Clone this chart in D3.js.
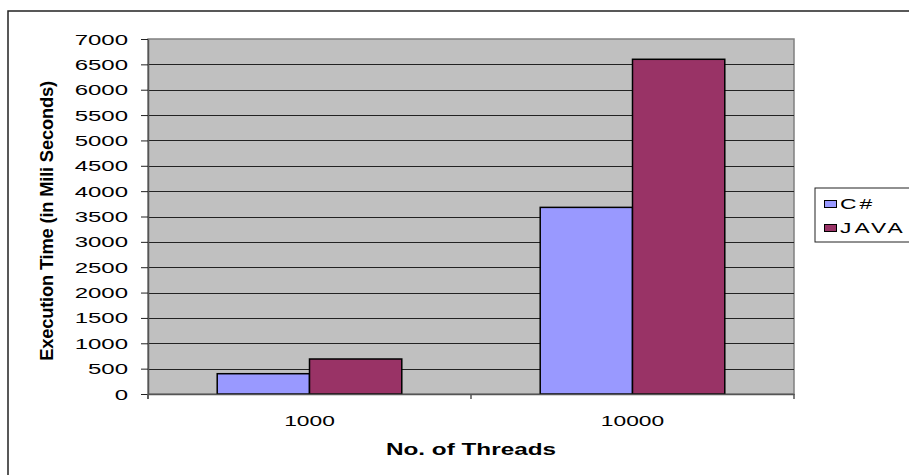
<!DOCTYPE html>
<html>
<head>
<meta charset="utf-8">
<script src="https://cdn.jsdelivr.net/npm/d3@7"></script>
<style>
  body { margin: 0; background: #fff; }
  svg { display: block; font-family: "Liberation Sans", Arial, sans-serif; }
</style>
</head>
<body>
<svg id="chart" width="909" height="475"></svg>
<script>
// Execution time: C# vs JAVA threads
const categories = ["1000", "10000"];
const series = ["C#", "JAVA"];
const csharpValues = [400, 3680];
const javaValues = [690, 6600];
const yTicks = [0, 500, 1000, 1500, 2000, 2500, 3000, 3500, 4000, 4500, 5000, 5500, 6000, 6500, 7000];

const colors = { "C#": "#9999ff", "JAVA": "#993366" };
const stretch = 1.52; // reference text is drawn wide

const plot = { left: 148, right: 794, top: 39, bottom: 394 };

const svg = d3.select("#chart");

// outer chart border
svg.append("rect")
    .attr("x", 8).attr("y", 11)
    .attr("width", 960).attr("height", 520)
    .attr("fill", "none")
    .attr("stroke", "#222")
    .attr("stroke-width", 1.5);

const x = d3.scaleBand().domain(categories).range([plot.left, plot.right]).padding(0);
const xs = d3.scaleBand().domain(series).range([0, x.bandwidth()]).paddingInner(0).paddingOuter(0.75);
const y = d3.scaleLinear().domain([0, 7000]).range([plot.bottom, plot.top]);

// plot area
svg.append("rect")
    .attr("x", plot.left).attr("y", plot.top)
    .attr("width", plot.right - plot.left).attr("height", plot.bottom - plot.top)
    .attr("fill", "#c0c0c0")
    .attr("stroke", "#808080")
    .attr("stroke-width", 1.5);

// gridlines
svg.append("g")
    .selectAll("line")
    .data(yTicks.filter(d => d > 0 && d < 7000))
    .enter().append("line")
    .attr("x1", plot.left).attr("x2", plot.right)
    .attr("y1", d => Math.round(y(d)) + 0.5).attr("y2", d => Math.round(y(d)) + 0.5)
    .attr("stroke", "#222")
    .attr("stroke-width", 1);

// bars
const rows = categories.map((c, i) => ({ cat: c, values: [
    { key: "C#", value: csharpValues[i] },
    { key: "JAVA", value: javaValues[i] }
] }));

const groups = svg.selectAll(".group")
    .data(rows)
    .enter().append("g")
    .attr("class", "group")
    .attr("transform", d => `translate(${x(d.cat)},0)`);

groups.selectAll("rect")
    .data(d => d.values)
    .enter().append("rect")
    .attr("x", d => xs(d.key))
    .attr("y", d => y(d.value))
    .attr("width", xs.bandwidth())
    .attr("height", d => y(0) - y(d.value))
    .attr("fill", d => colors[d.key])
    .attr("stroke", "#000")
    .attr("stroke-width", 1.5);

// y axis
const yAxis = svg.append("g")
    .attr("transform", `translate(${plot.left},0)`)
    .call(d3.axisLeft(y).tickValues(yTicks).tickSize(7).tickSizeOuter(0).tickFormat(""));
yAxis.select(".domain").attr("stroke", "#555").attr("stroke-width", 1.5);
yAxis.selectAll(".tick line").attr("stroke", "#222");
svg.append("line")
    .attr("x1", plot.left).attr("x2", plot.left)
    .attr("y1", plot.bottom).attr("y2", plot.bottom + 5)
    .attr("stroke", "#555").attr("stroke-width", 1.5);

svg.append("g")
    .selectAll("text")
    .data(yTicks)
    .enter().append("text")
    .attr("transform", d => `translate(128,${y(d) + 5.5}) scale(1.6,1)`)
    .attr("text-anchor", "end")
    .style("font-size", "15px")
    .attr("fill", "#000")
    .text(d => d);

// x axis
const xAxis = svg.append("g")
    .attr("transform", `translate(0,${plot.bottom})`)
    .call(d3.axisBottom(x).tickSize(0).tickFormat(""));
xAxis.select(".domain").attr("stroke", "#555").attr("stroke-width", 1.5);
xAxis.selectAll(".tick").remove();

const bounds = categories.map(c => x(c)).concat([x(categories[categories.length - 1]) + x.bandwidth()]);
svg.append("g")
    .selectAll("line")
    .data(bounds)
    .enter().append("line")
    .attr("x1", d => d).attr("x2", d => d)
    .attr("y1", plot.bottom).attr("y2", plot.bottom + 5)
    .attr("stroke", "#555").attr("stroke-width", 1.5);

svg.append("g")
    .selectAll("text")
    .data(categories)
    .enter().append("text")
    .attr("transform", d => `translate(${x(d) + x.bandwidth() / 2},426) scale(${stretch},1)`)
    .attr("text-anchor", "middle")
    .style("font-size", "15px")
    .text(d => d);

// axis titles
svg.append("text")
    .attr("transform", `translate(${(plot.left + plot.right) / 2},455) scale(${stretch},1)`)
    .attr("text-anchor", "middle")
    .style("font-size", "16px")
    .style("font-weight", "bold")
    .text("No. of Threads");

svg.append("text")
    .attr("transform", "translate(53,221) rotate(-90) scale(1.02,1.05)")
    .attr("text-anchor", "middle")
    .style("font-size", "18px")
    .style("font-weight", "bold")
    .style("letter-spacing", "-0.2px")
    .text("Execution Time (in Mili Seconds)");

// legend
const legend = svg.append("g").attr("transform", "translate(815,188)");
legend.append("rect")
    .attr("width", 110).attr("height", 54)
    .attr("fill", "#fff")
    .attr("stroke", "#222")
    .attr("stroke-width", 1);

const items = legend.selectAll(".legend")
    .data(series)
    .enter().append("g")
    .attr("class", "legend")
    .attr("transform", (d, i) => `translate(0,${12 + i * 24})`);

items.append("rect")
    .attr("x", 9.5).attr("width", 12).attr("height", 7)
    .attr("y", 0.5)
    .attr("fill", d => colors[d])
    .attr("stroke", "#000");

items.append("text")
    .attr("transform", `translate(25,9) scale(${stretch},1)`)
    .style("font-size", "15px")
    .style("letter-spacing", "2px")
    .text(d => d);
</script>
</body>
</html>
